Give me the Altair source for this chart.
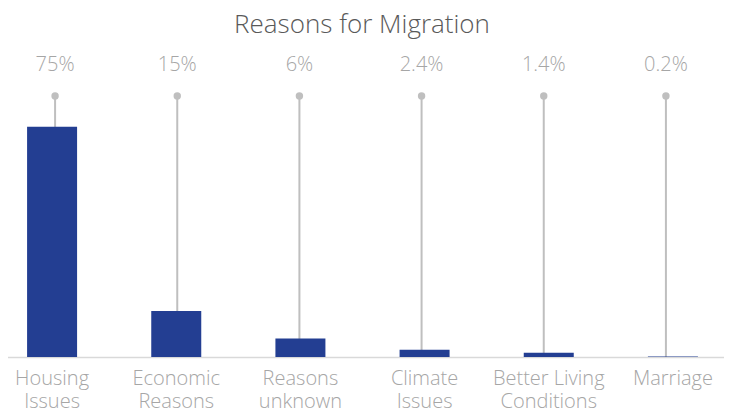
import altair as alt
import pandas as pd

categories = ["Housing Issues", "Economic Reasons", "Reasons unknown",
              "Climate Issues", "Better Living Conditions", "Marriage"]
axis_labels = ["Housing\nIssues", "Economic\nReasons", "Reasons\nunknown",
               "Climate\nIssues", "Better Living\nConditions", "Marriage"]
shares = [75, 15, 6, 2.4, 1.4, 0.2]
share_labels = ["75%", "15%", "6%", "2.4%", "1.4%", "0.2%"]
stem_tops = [85, 85, 85, 85, 85, 85]

df = pd.DataFrame({
    "cat": categories,
    "axis_label": axis_labels,
    "share": shares,
    "share_label": share_labels,
    "stem": stem_tops,
    "zero": [0] * len(categories),
})

W, H = 704, 261
GRAY_TEXT = "#A6A6A6"
STEM = "#BFBFBF"

bar_x = alt.X("cat:N", sort=categories,
              scale=alt.Scale(range=[-20, 725], paddingInner=0, paddingOuter=0),
              axis=alt.Axis(title=None, labels=False, ticks=False, domain=True,
                            domainColor="#D9D9D9", domainWidth=1.5, grid=False))
stem_x = alt.X("cat:N", sort=categories,
               scale=alt.Scale(range=[-16, 717], paddingInner=0, paddingOuter=0),
               axis=None)
yscale = alt.Scale(domain=[0, 85])

base = alt.Chart(df)

stems = base.mark_rule(color=STEM, strokeWidth=2).encode(
    x=stem_x,
    y=alt.Y("zero:Q", scale=yscale, axis=None),
    y2="stem:Q",
)
dots = base.mark_circle(color=STEM, size=55, opacity=1).encode(
    x=stem_x,
    y=alt.Y("stem:Q", scale=yscale, axis=None),
)
pct = base.mark_text(color=GRAY_TEXT, fontSize=20, font="Open Sans", fontWeight=300,
                     dy=-31, baseline="middle").encode(
    x=stem_x,
    y=alt.Y("stem:Q", scale=yscale, axis=None),
    text="share_label:N",
)
bars = base.mark_bar(color="#233E92", width=50).encode(
    x=bar_x,
    y=alt.Y("share:Q", scale=yscale, axis=None),
)
cat_text = base.mark_text(color=GRAY_TEXT, fontSize=20, font="Open Sans", fontWeight=300,
                          baseline="top", lineBreak="\n", lineHeight=23).encode(
    x=alt.X("cat:N", sort=categories,
            scale=alt.Scale(range=[-20, 725], paddingInner=0, paddingOuter=0),
            axis=None),
    y=alt.value(H + 12),
    text="axis_label:N",
)

chart = alt.layer(stems, dots, bars, pct, cat_text).resolve_scale(
    x="independent"
).properties(
    width=W, height=H,
    autosize=alt.AutoSizeParams(type="none"),
    padding={"left": 2, "top": 88, "right": 10, "bottom": 57},
    title=alt.TitleParams("Reasons for Migration", fontSize=26, font="Open Sans",
                          fontWeight=300, color="#595959", anchor="middle",
                          offset=17),
).configure_view(stroke=None)

chart.save("out.html", embed_options={"renderer": "svg", "actions": False})
